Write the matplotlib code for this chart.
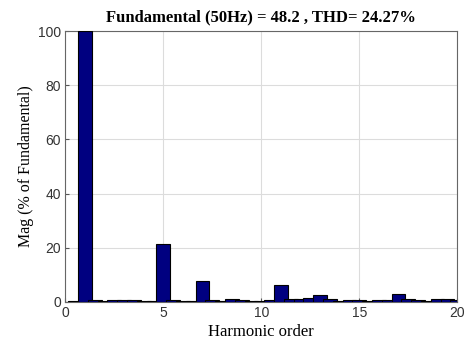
import numpy as np
import matplotlib
matplotlib.use("Agg")
import matplotlib.pyplot as plt

# harmonic spectrum, bins every half order
orders = np.arange(0, 20.5, 0.5)
mag = [0.0, 0.3, 100.0, 0.8, 0.3, 0.8, 0.9, 0.8, 0.3, 0.5,
       21.3, 0.6, 0.5, 0.5, 7.8, 0.8, 0.3, 1.0, 0.8, 0.5,
       0.5, 0.6, 6.2, 1.2, 1.0, 1.3, 2.5, 1.2, 0.3, 0.6,
       0.7, 0.3, 0.6, 0.6, 2.8, 1.0, 0.8, 0.4, 1.2, 1.0,
       0.8]
title = "Fundamental (50Hz) = 48.2 , THD= 24.27%"

fig = plt.figure(figsize=(4.68, 3.42), dpi=100)
ax = fig.add_axes([0.1395, 0.117, 0.8375, 0.792])

ax.bar(orders, mag, width=0.7, color="#000080", edgecolor="black", linewidth=0.8, zorder=3)

ax.set_xlim(0, 20)
ax.set_ylim(0, 100)
ax.set_xticks([0, 5, 10, 15, 20])
ax.set_yticks([0, 20, 40, 60, 80, 100])
ax.grid(True, color="#dcdcdc", linewidth=0.8, zorder=0)
ax.tick_params(direction="in", length=3, labelsize=10, color="#555555", pad=3)
for lab in ax.get_xticklabels() + ax.get_yticklabels():
    lab.set_fontfamily("Liberation Sans")
    lab.set_color("#333333")
for s in ax.spines.values():
    s.set_color("#666666")
    s.set_linewidth(0.8)

ax.set_title(title, fontfamily="Liberation Serif", fontweight="bold", fontsize=12, pad=7)
ax.set_xlabel("Harmonic order", fontfamily="Liberation Serif", fontsize=12, labelpad=3)
ax.set_ylabel("Mag (% of Fundamental)", fontfamily="Liberation Serif", fontsize=11.5, labelpad=3)

fig.savefig("out.png", dpi=100)
